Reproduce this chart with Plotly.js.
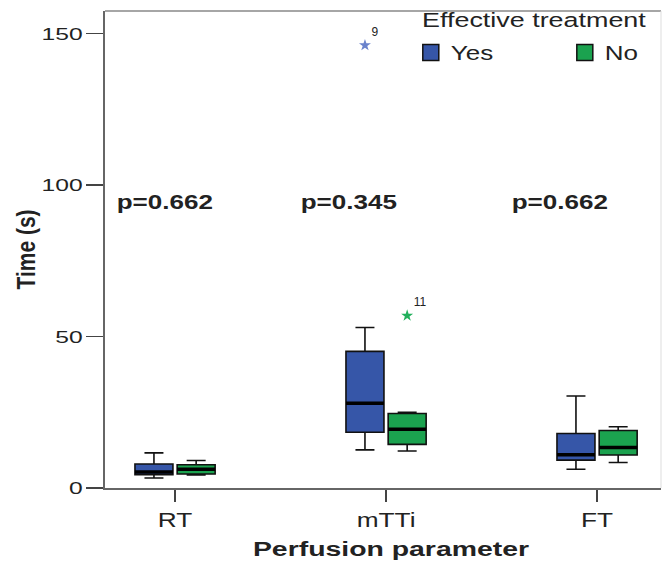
<!DOCTYPE html>
<html>
<head>
<meta charset="utf-8">
<script src="https://cdn.plot.ly/plotly-3.0.1.min.js"></script>
<style>html,body{margin:0;padding:0;background:#fff;}#chart{width:664px;height:562px;}</style>
</head>
<body>
<div id="chart"></div>
<script>
// Categories
var categories = ["RT", "mTTi", "FT"];
var groupNames = ["Yes", "No"];
var legendTitle = "Effective treatment";

// Box statistics (seconds)
var yesLower  = [3.3, 12.6, 6.2];
var yesQ1     = [4.4, 18.4, 9.2];
var yesMedian = [5.3, 28.0, 11.0];
var yesQ3     = [7.9, 45.1, 18.0];
var yesUpper  = [11.6, 53.0, 30.4];

var noLower   = [4.3, 12.2, 8.4];
var noQ1      = [4.6, 14.4, 10.9];
var noMedian  = [6.2, 19.4, 13.4];
var noQ3      = [7.7, 24.6, 19.0];
var noUpper   = [9.1, 25.0, 20.2];

// Extreme outliers (case numbers as labels)
var yesOutX = ["mTTi"], yesOutY = [146.2], yesOutLabel = ["9"];
var noOutX  = ["mTTi"], noOutY  = [56.9],  noOutLabel  = ["11"];

// p-values per category
var pValues = ["p=0.662", "p=0.345", "p=0.662"];
var pY = 94.5;

var yesColor = "#3656a8", noColor = "#1ba24f";
var font = "Liberation Sans, Arial, sans-serif";

var boxCommon = {type: "box", boxpoints: false, line: {color: "#111", width: 1.6},
  whiskerwidth: 0.5, hoverinfo: "skip", showlegend: false};

var traces = [
  Object.assign({name: groupNames[0], x: categories, q1: yesQ1, median: yesMedian, q3: yesQ3,
    lowerfence: yesLower, upperfence: yesUpper, fillcolor: yesColor, offsetgroup: "yes"}, boxCommon),
  Object.assign({name: groupNames[1], x: categories, q1: noQ1, median: noMedian, q3: noQ3,
    lowerfence: noLower, upperfence: noUpper, fillcolor: noColor, offsetgroup: "no"}, boxCommon),
  {type: "scatter", mode: "markers+text", x: yesOutX, y: yesOutY, text: yesOutLabel,
   textposition: "top right", textfont: {family: font, size: 12, color: "#222"},
   marker: {symbol: "star", size: 9, color: "#6a82cc"}, showlegend: false, hoverinfo: "skip",
   offsetgroup: "yes", alignmentgroup: "g"},
  {type: "scatter", mode: "markers+text", x: noOutX, y: noOutY, text: noOutLabel,
   textposition: "top right", textfont: {family: font, size: 12, color: "#222"},
   marker: {symbol: "star", size: 9, color: "#22b05c"}, showlegend: false, hoverinfo: "skip",
   offsetgroup: "no", alignmentgroup: "g"},
  // legend entries (no visible points)
  {type: "scatter", mode: "markers", name: groupNames[0], x: [categories[0]], y: [null], legend: "legend",
   marker: {symbol: "square", size: 20, color: yesColor, line: {color: "#111", width: 1.5}},
   offsetgroup: "yes", alignmentgroup: "g", hoverinfo: "skip"},
  {type: "scatter", mode: "markers", name: groupNames[1], x: [categories[0]], y: [null], legend: "legend2",
   marker: {symbol: "square", size: 20, color: noColor, line: {color: "#111", width: 1.5}},
   offsetgroup: "no", alignmentgroup: "g", hoverinfo: "skip"}
];

var pShift = [-10, -37, -37];
var annotations = pValues.map(function (p, i) {
  return {x: i, y: pY, xref: "x", yref: "y", text: "<b>" + p + "</b>",
    showarrow: false, xshift: pShift[i], font: {family: font, size: 21, color: "#222"}};
});
// legend title
annotations.push({x: 0.5665, y: 0.981, xref: "paper", yref: "paper", xanchor: "left", yanchor: "middle",
  text: legendTitle, showarrow: false, font: {family: font, size: 19.5, color: "#222"}});

// thick median lines (SPSS style), placed on the box positions of each group
var shapes = [];
var boxHalf = 0.09, groupOff = 0.1;
categories.forEach(function (c, i) {
  shapes.push({type: "line", xref: "x", yref: "y", x0: i - groupOff - boxHalf, x1: i - groupOff + boxHalf,
    y0: yesMedian[i], y1: yesMedian[i], line: {color: "#000", width: 3.5}});
  shapes.push({type: "line", xref: "x", yref: "y", x0: i + groupOff - boxHalf, x1: i + groupOff + boxHalf,
    y0: noMedian[i], y1: noMedian[i], line: {color: "#000", width: 3.5}});
});
// frame: top and right
shapes.push({type: "line", xref: "paper", yref: "paper", x0: 0, x1: 1, y0: 1, y1: 1, line: {color: "#888", width: 1.5}});
shapes.push({type: "line", xref: "paper", yref: "paper", x0: 1, x1: 1, y0: 0, y1: 1, line: {color: "#ddd", width: 1}});

var layout = {
  width: 664, height: 562,
  margin: {l: 105, r: 3, t: 11, b: 74},
  paper_bgcolor: "#fff", plot_bgcolor: "#fff",
  boxmode: "group", boxgap: 0.6, boxgroupgap: 0.1,
  scattermode: "group", scattergap: 0.6,
  font: {family: font, color: "#222"},
  showlegend: true,
  legend: {
    orientation: "h", x: 0.550, y: 0.954, xanchor: "left", yanchor: "top",
    font: {family: font, size: 20, color: "#222"}, bgcolor: "rgba(0,0,0,0)"
  },
  legend2: {
    orientation: "h", x: 0.827, y: 0.954, xanchor: "left", yanchor: "top",
    font: {family: font, size: 20, color: "#222"}, bgcolor: "rgba(0,0,0,0)"
  },
  xaxis: {
    type: "category", categoryorder: "array", categoryarray: categories,
    range: [-0.332, 2.303],
    showline: true, linecolor: "#666", linewidth: 2, mirror: false,
    ticks: "outside", ticklen: 12, tickwidth: 1.5, tickcolor: "#444",
    showgrid: false, zeroline: false,
    tickfont: {family: font, size: 21, color: "#222"},
    title: {text: "<b>Perfusion parameter</b>", font: {family: font, size: 20, color: "#222"}, standoff: 12}
  },
  yaxis: {
    range: [0, 157.5],
    tickvals: [0, 50, 100, 150],
    showline: true, linecolor: "#666", linewidth: 2, mirror: false,
    ticks: "outside", ticklen: 17, tickwidth: 1.5, tickcolor: "#444",
    showgrid: false, zeroline: false,
    tickfont: {family: font, size: 17, color: "#222"},
    title: {text: "<b>Time (s)</b>", font: {family: font, size: 21, color: "#222"}, standoff: 14}
  },
  annotations: annotations,
  shapes: shapes
};

// The reference picture is stretched horizontally; widen the texts the same way.
function stretch(selector, s, anchor, dx) {
  document.querySelectorAll(selector).forEach(function (t) {
    var bb = t.getBBox();
    var tr = t.getAttribute("transform") || "";
    var add;
    if (/rotate/.test(tr)) {
      var cy = bb.y + bb.height / 2;
      add = " translate(0," + cy + ") scale(1," + s + ") translate(0," + (-cy) + ")";
    } else {
      var cx = anchor === "right" ? bb.x + bb.width : anchor === "left" ? bb.x : bb.x + bb.width / 2;
      add = " translate(" + (cx + (dx || 0)) + ",0) scale(" + s + ",1) translate(" + (-cx) + ",0)";
    }
    t.setAttribute("transform", tr + add);
  });
}

Plotly.newPlot("chart", traces, layout, {displayModeBar: false, staticPlot: true}).then(function () {
  document.querySelectorAll(".legend [clip-path], .legend2 [clip-path]").forEach(function (e) {
    e.removeAttribute("clip-path");
  });
  stretch(".yaxislayer-above text", 1.45, "right");
  stretch(".xaxislayer-above text", 1.25, "center");
  stretch(".g-xtitle text", 1.42, "center", 8);
  stretch(".g-ytitle text", 1.2, "center");
  stretch(".annotation[data-index='0'] text, .annotation[data-index='1'] text, .annotation[data-index='2'] text", 1.24, "center");
  stretch(".annotation[data-index='3'] text", 1.38, "left");
  stretch(".legend text, .legend2 text", 1.3, "left");
});
</script>
</body>
</html>
